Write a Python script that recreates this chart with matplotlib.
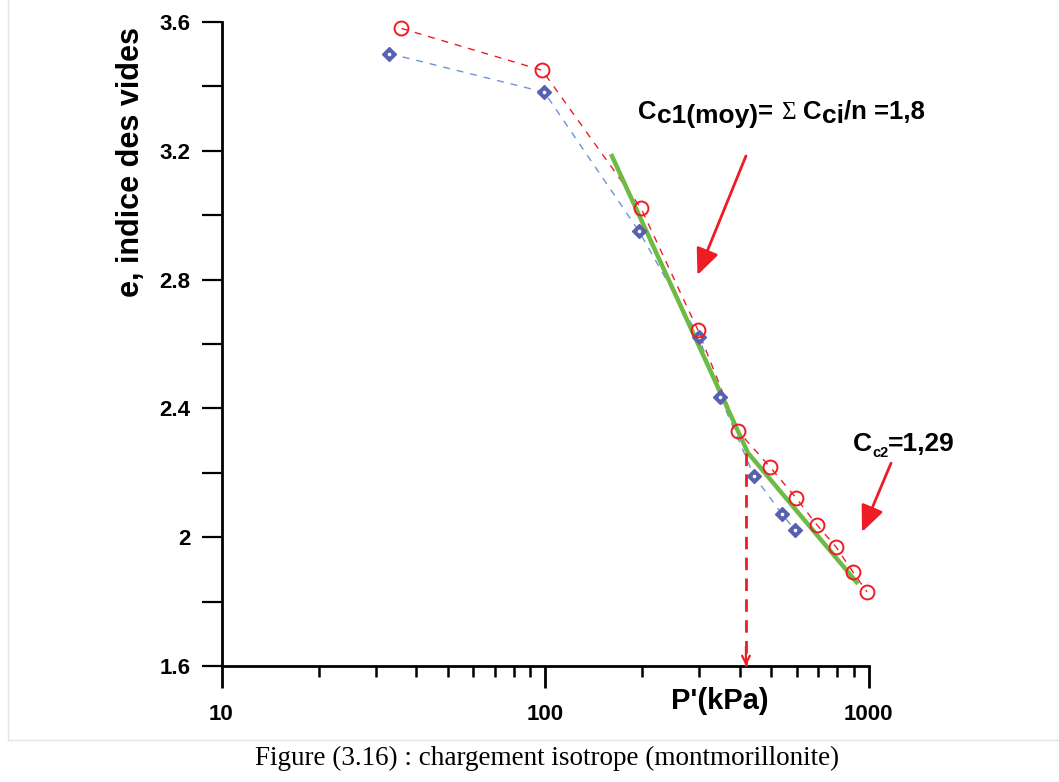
import numpy as np
import matplotlib
matplotlib.use("Agg")
import matplotlib.pyplot as plt
import matplotlib.transforms as mtransforms
from matplotlib.lines import Line2D
from matplotlib.ticker import FixedLocator, LogLocator, NullFormatter, FixedFormatter

# ---------------- data ----------------
p_red = [36, 98, 198, 297, 395, 496, 597, 693, 793, 895, 989]
e_red = [3.58, 3.45, 3.022, 2.643, 2.330, 2.218, 2.122, 2.038, 1.970, 1.892, 1.830]

p_blue = [33, 99.5, 195, 299, 348, 443, 540, 593]
e_blue = [3.502, 3.382, 2.951, 2.622, 2.435, 2.190, 2.072, 2.022]

p_fit = [160, 424, 928]
e_fit = [3.190, 2.262, 1.855]

p_yield = [418, 418]
e_yield = [2.262, 1.6]

x_ticks = [10, 100, 1000]
x_ticklabels = ["10", "100", "1000"]
y_ticks = [1.6, 2.0, 2.4, 2.8, 3.2, 3.6]
y_ticklabels = ["1.6", "2", "2.4", "2.8", "3.2", "3.6"]
y_minor = [1.8, 2.2, 2.6, 3.0, 3.4]

arrow1_tail = (418, 3.184)
arrow1_head = (296, 2.814)
arrow2_tail = (1174, 2.230)
arrow2_head = (955, 2.016)

text1_pos = (194, 3.300)
text2_pos = (896, 2.268)

caption = "Figure (3.16) : chargement isotrope (montmorillonite)"

# ---------------- figure ----------------
plt.rcParams['font.family'] = ['Liberation Sans', 'DejaVu Sans']
W, H = 1059, 782
fig = plt.figure(figsize=(W / 100, H / 100), dpi=100)
ax = fig.add_axes([221.5 / W, (H - 666) / H, (868.5 - 221.5) / W, (666 - 22) / H])

RED = '#ee1c24'
BLUE_LINE = '#6f93d8'
BLUE_MK = '#5a60b0'
GREEN = '#6cbb45'

ax.plot(p_red, e_red, ls=(0, (5, 5)), color=RED, lw=1.0, zorder=2)
ax.plot(p_blue, e_blue, ls=(0, (5, 5)), color=BLUE_LINE, lw=1.0, zorder=2)
ax.plot(p_blue, e_blue, ls='none', marker='D', ms=7, mfc=BLUE_MK, mec=BLUE_MK, zorder=4)
ax.plot(p_blue, e_blue, ls='none', marker='o', ms=1.6, mfc='white', mec='white', zorder=5)
ax.plot(p_fit, e_fit, color=GREEN, lw=3.2, zorder=3, solid_capstyle='butt')
ax.plot(p_red, e_red, ls='none', marker='o', ms=10, mfc='none', mec=RED, mew=1.4, zorder=6,
        clip_on=False)

# yield dashed arrow
ax.plot(p_yield, e_yield, ls=(0, (4.5, 3)), color=RED, lw=2.0, zorder=3, clip_on=False)
ax.annotate('', xy=(p_yield[1], e_yield[1]), xytext=(p_yield[1], e_yield[1] + 0.06),
            arrowprops=dict(arrowstyle='->', color=RED, lw=1.6, mutation_scale=14,
                            shrinkA=0, shrinkB=0), annotation_clip=False, zorder=7)

# red annotation arrows
for tail, head in [(arrow1_tail, arrow1_head), (arrow2_tail, arrow2_head)]:
    ax.annotate('', xy=head, xytext=tail,
                arrowprops=dict(arrowstyle='-|>,head_length=0.8,head_width=0.35', color=RED,
                                lw=2.0, mutation_scale=20, shrinkA=0, shrinkB=0),
                annotation_clip=False, zorder=7)

# ---------------- axes styling ----------------
ax.set_xscale('log')
ax.set_xlim(10, 1000)
ax.set_ylim(1.6, 3.6)
for s in ['top', 'right']:
    ax.spines[s].set_visible(False)
for s in ['left', 'bottom']:
    ax.spines[s].set_linewidth(2.0)

ax.xaxis.set_major_locator(FixedLocator(x_ticks))
ax.xaxis.set_major_formatter(FixedFormatter(x_ticklabels))
ax.xaxis.set_minor_locator(LogLocator(base=10, subs=np.arange(2, 10)))
ax.xaxis.set_minor_formatter(NullFormatter())
ax.tick_params(axis='x', which='major', direction='out', length=16, width=2.0,
               labelsize=16, pad=11)
ax.tick_params(axis='x', which='minor', direction='out', length=8, width=1.8)
ax.yaxis.set_major_locator(FixedLocator(y_ticks))
ax.yaxis.set_major_formatter(FixedFormatter(y_ticklabels))
ax.yaxis.set_minor_locator(FixedLocator(y_minor))
ax.tick_params(axis='y', which='both', direction='out', length=14.5, width=1.6,
               labelsize=16, pad=8)
for lab in ax.get_xticklabels() + ax.get_yticklabels():
    lab.set_fontweight('bold')

ax.set_xlabel("P'(kPa)", fontsize=21, fontweight='bold')
ax.xaxis.set_label_coords((720 - 221.5) / 647, (666 - 701) / 644)
ax.xaxis.label.set_verticalalignment('center')
ax.set_ylabel("e, indice des vides", fontsize=22, fontweight='bold')
ax.yaxis.set_label_coords((131 - 221.5) / 647, (666 - 162) / 644)
ax.yaxis.label.set_verticalalignment('center')

# ---------------- annotation texts ----------------
fig.canvas.draw()
renderer = fig.canvas.get_renderer()


def chain(x, y, pieces):
    dx = 0.0
    for s, size, dy, fam, gap, wt in pieces:
        tr = mtransforms.offset_copy(ax.transData, fig=fig, x=dx + gap, y=dy, units='dots')
        t = ax.text(x, y, s, transform=tr, fontsize=size, fontweight=wt, family=fam,
                    va='baseline', ha='left', clip_on=False, zorder=8)
        bb = t.get_window_extent(renderer)
        dx += gap + bb.width


SANS = ['Liberation Sans', 'DejaVu Sans']
SERIF = ['Liberation Serif', 'DejaVu Serif']
chain(text1_pos[0], text1_pos[1], [
    ("C", 18.5, 0, SANS, 0, 'bold'),
    ("c1(moy)", 19, -4, SANS, 0, 'bold'),
    ("=", 18.5, 0, SANS, 0, 'bold'),
    ("\u03a3", 18, 0, SERIF, 9, 'normal'),
    ("C", 18.5, 0, SANS, 7, 'bold'),
    ("ci", 19, -4, SANS, 0, 'bold'),
    ("/n =1,8", 18.5, 0, SANS, 0, 'bold'),
])
chain(text2_pos[0], text2_pos[1], [
    ("C", 19, 0, SANS, 0, 'bold'),
    ("c2", 10.5, -6, SANS, 0, 'bold'),
    ("=1,29", 19, 0, SANS, 0, 'bold'),
])

# ---------------- caption and frame ----------------
fig.text(547 / W, 1 - 758 / H, caption, fontsize=19.5, family=SERIF,
         ha='center', va='center')
fig.add_artist(Line2D([8 / W, 1], [1 - 740 / H, 1 - 740 / H], color='#e3e3e3', lw=1.0))
fig.add_artist(Line2D([8 / W, 8 / W], [1 - 740 / H, 1], color='#e3e3e3', lw=1.0))

fig.savefig('out.png', dpi=100)
